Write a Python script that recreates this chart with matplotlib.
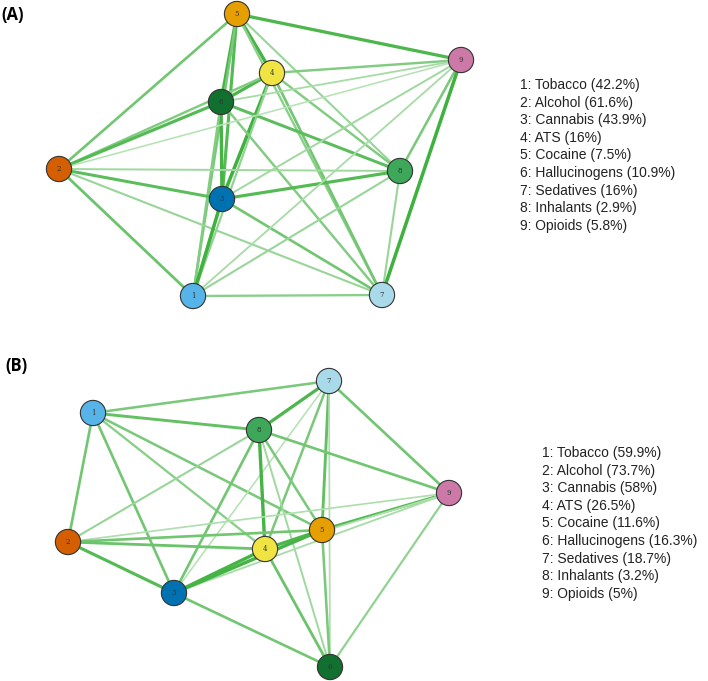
import numpy as np
import matplotlib.pyplot as plt
from matplotlib.colors import to_rgb

# Nombres de las sustancias
substances = ["Tobacco", "Alcohol", "Cannabis", "ATS", "Cocaine",
              "Hallucinogens", "Sedatives", "Inhalants", "Opioids"]
prev_a = ["42.2", "61.6", "43.9", "16", "7.5", "10.9", "16", "2.9", "5.8"]
prev_b = ["59.9", "73.7", "58", "26.5", "11.6", "16.3", "18.7", "3.2", "5"]

node_colors = ["#56B4E9", "#D55E00", "#0072B2", "#F0E442", "#E69F00",
               "#11702F", "#A9DAEA", "#3DA85A", "#CC79A7"]

# Layout para cada panel
pos_a_x = [193, 59, 222, 272, 237, 221, 382, 400, 461]
pos_a_y = [296, 169, 199, 73, 14, 102, 295, 171, 60]
pos_b_x = [93, 68, 174, 265, 322, 330, 329, 259, 449]
pos_b_y = [73, 202, 253, 209, 190, 327, 41, 90, 153]

# Aristas: (i, j, peso)
edges_a = [
    (5, 2, 0.6), (5, 6, 0.9), (5, 3, 0.8), (5, 1, 0.55), (5, 4, 0.9),
    (5, 9, 0.85), (5, 8, 0.35), (5, 7, 0.45),
    (4, 6, 0.85), (4, 3, 0.95), (4, 9, 0.5), (4, 8, 0.5), (4, 7, 0.6),
    (4, 2, 0.5), (4, 1, 0.4),
    (6, 2, 0.8), (6, 9, 0.25), (6, 8, 0.75), (6, 7, 0.5), (6, 3, 0.9),
    (6, 1, 0.5),
    (2, 9, 0.15), (2, 8, 0.3), (2, 3, 0.75), (2, 7, 0.35), (2, 1, 0.65),
    (3, 8, 0.8), (3, 9, 0.3), (3, 7, 0.6), (3, 1, 0.95),
    (1, 7, 0.45), (1, 8, 0.35), (1, 9, 0.25),
    (8, 9, 0.55), (8, 7, 0.35), (9, 7, 0.95),
]
edges_b = [
    (1, 7, 0.55), (1, 8, 0.7), (1, 2, 0.6), (1, 3, 0.6), (1, 5, 0.55),
    (1, 4, 0.45),
    (7, 8, 0.85), (7, 9, 0.6), (7, 5, 0.7), (7, 4, 0.55), (7, 3, 0.15),
    (7, 6, 0.2),
    (8, 9, 0.6), (8, 4, 0.9), (8, 5, 0.55), (8, 6, 0.3), (8, 3, 0.6),
    (8, 2, 0.35),
    (9, 5, 0.8), (9, 2, 0.2), (9, 3, 0.25), (9, 6, 0.4), (9, 4, 0.2),
    (5, 2, 0.6), (5, 4, 0.85), (5, 3, 0.9), (5, 6, 0.55),
    (2, 4, 0.65), (2, 3, 0.8), (4, 3, 0.9), (4, 6, 0.65), (3, 6, 0.6),
]

edge_rgb = np.array(to_rgb("#36AE36"))


def draw_panel(ax, xs, ys, edges, prev, letter, lab_xy, leg_x, leg_y, height):
    ax.set_xlim(0, 708)
    ax.set_ylim(height, 0)
    ax.axis("off")
    for i, j, w in edges:
        c = 1 - (1 - edge_rgb) * (0.25 + 0.75 * w)
        ax.plot([xs[i - 1], xs[j - 1]], [ys[i - 1], ys[j - 1]],
                color=c, lw=0.9 + 1.7 * w, solid_capstyle="butt", zorder=1)
    ax.scatter(xs, ys, s=330, c=node_colors, edgecolors="#333333",
               linewidths=0.8, zorder=3)
    for k in range(9):
        ax.text(xs[k], ys[k], str(k + 1), ha="center", va="center",
                fontsize=5, family="DejaVu Serif", color="#333333", zorder=4)
    ax.text(lab_xy[0], lab_xy[1], "(" + letter + ")",
            fontsize=12, fontweight="bold", family="Open Sans",
            ha="left", va="center")
    for k in range(9):
        ax.text(leg_x, leg_y + k * 17.6,
                f"{k + 1}: {substances[k]} ({prev[k]}%)",
                fontsize=10, family="Liberation Sans", color="#222222",
                ha="left", va="center")


fig = plt.figure(figsize=(7.08, 6.81), dpi=100)
axA = fig.add_axes([0, 1 - 340 / 681, 1, 340 / 681])
axB = fig.add_axes([0, 0, 1, 341 / 681])

draw_panel(axA, pos_a_x, pos_a_y, edges_a, prev_a, "A", (1, 15), 520, 85, 340)
draw_panel(axB, pos_b_x, pos_b_y, edges_b, prev_b, "B", (5, 26), 542, 113, 341)

fig.savefig("out.png", dpi=100)
